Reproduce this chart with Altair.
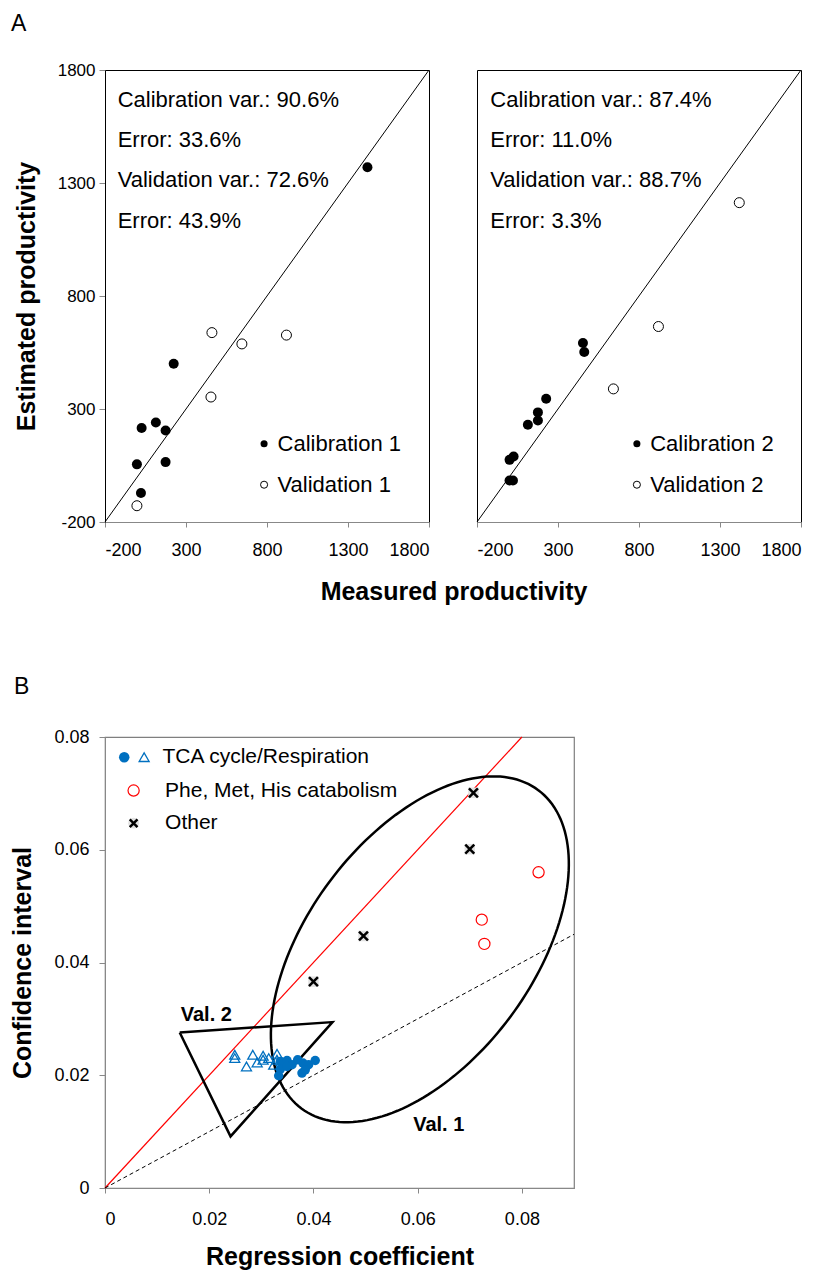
import altair as alt
import pandas as pd
import numpy as np

FONT = "Liberation Sans"

# ---------------- Panel A data ----------------
A_TICKS = [-200, 300, 800, 1300, 1800]
cal1_x = [1420, 224, 114, 26, 174, -3, 174, 22]
cal1_y = [1370, 500, 240, 216, 205, 55, 65, -72]
val1_x = [460, 645, 920, 454, -3]
val1_y = [638, 588, 627, 353, -128]
cal2_x = [454, 462, 227, 176, 176, 114, 26, 1, 1, 22]
cal2_y = [592, 552, 345, 285, 249, 230, 90, 75, -16, -16]
val2_x = [1419, 920, 642]
val2_y = [1213, 665, 389]
stats1 = ["Calibration var.: 90.6%", "Error: 33.6%", "Validation var.: 72.6%", "Error: 43.9%"]
stats2 = ["Calibration var.: 87.4%", "Error: 11.0%", "Validation var.: 88.7%", "Error: 3.3%"]
stat_y = [1635, 1458, 1284, 1103]
leg1 = ["Calibration 1", "Validation 1"]
leg2 = ["Calibration 2", "Validation 2"]
leg_y = [146, -35]

# ---------------- Panel B data ----------------
B_XTICKS = [0, 0.02, 0.04, 0.06, 0.08]
B_YTICKS = [0, 0.02, 0.04, 0.06, 0.08]
tca_circ_x = [0.03365, 0.03493, 0.03589, 0.03697, 0.03799, 0.03907, 0.04034, 0.0378, 0.03365, 0.03333, 0.03493, 0.03843]
tca_circ_y = [0.02245, 0.02262, 0.02186, 0.02275, 0.02216, 0.02186, 0.02262, 0.02039, 0.0211, 0.01991, 0.02156, 0.02097]
tca_tri_x = [0.0249, 0.0249, 0.02715, 0.02836, 0.0292, 0.03034, 0.03034, 0.03142, 0.03302, 0.03237, 0.0330]
tca_tri_y = [0.02364, 0.02305, 0.02156, 0.02364, 0.02227, 0.02346, 0.02275, 0.02305, 0.02381, 0.02186, 0.02275]
phe_x = [0.0832, 0.0723, 0.0728]
phe_y = [0.0560, 0.0476, 0.0433]
other_x = [0.0707, 0.0700, 0.0496, 0.0400]
other_y = [0.0701, 0.0601, 0.0447, 0.0366]
red_line_x = [0, 0.08]
red_line_y = [0, 0.08]
dash_line_x = [0, 0.09]
dash_line_y = [0, 0.045]
tri_x = [0.01434, 0.04365, 0.02409, 0.01434]
tri_y = [0.02759, 0.02943, 0.00915, 0.02759]
ELL_C = (0.06042, 0.04234)
ELL_U = (0.02273, 0.02823)
ELL_V = (0.01734, -0.01200)
val_labels = ["Val. 2", "Val. 1"]
val_lx = [0.01453, 0.05914]
val_ly = [0.0306, 0.01122]
b_leg_labels = ["TCA cycle/Respiration", "Phe, Met, His catabolism", "Other"]
b_leg_text_x = [0.01103, 0.01153, 0.01153]
b_leg_y = [0.07642, 0.0705, 0.06472]

CROSS = "M-1,-1L1,1M1,-1L-1,1"
PLAIN_NUM = "'' + datum.value"


def panel_a(cal_x, cal_y, val_x, val_y, stats, stat_x, legs, leg_mx, leg_tx, show_y, letter):
    xs = alt.Scale(domain=[-200, 1800], nice=False, zero=False)
    ys = alt.Scale(domain=[-200, 1800], nice=False, zero=False)
    xaxis = alt.Axis(values=A_TICKS, labelExpr=PLAIN_NUM, title=None, grid=False, tickSize=5,
                     tickColor="#888888", domainColor="#888888", labelFont=FONT,
                     labelFontSize=18, labelPadding=14, labelColor="black")
    if show_y:
        yaxis = alt.Axis(values=A_TICKS, labelExpr=PLAIN_NUM, title="Estimated productivity",
                         grid=False, tickSize=6, tickColor="#888888", domainColor="black",
                         labelFont=FONT, labelFontSize=17, labelPadding=4, labelColor="black",
                         titleFont=FONT, titleFontSize=25, titleFontWeight="bold",
                         titlePadding=18, titleColor="black")
    else:
        yaxis = None
    X = alt.X("x:Q", scale=xs, axis=xaxis)
    Y = alt.Y("y:Q", scale=ys, axis=yaxis)

    diag = alt.Chart(pd.DataFrame({"x": [-200, 1800], "y": [-200, 1800]})).mark_line(
        color="black", strokeWidth=1).encode(x=X, y=Y)
    cal = alt.Chart(pd.DataFrame({"x": cal_x, "y": cal_y})).mark_point(
        shape="circle", filled=True, fill="black", color="black", size=100, opacity=1).encode(x=X, y=Y)
    val = alt.Chart(pd.DataFrame({"x": val_x, "y": val_y})).mark_point(
        shape="circle", filled=True, fill="white", stroke="black", strokeWidth=1, size=100,
        opacity=1).encode(x=X, y=Y)
    txt = alt.Chart(pd.DataFrame({"x": [stat_x] * 4, "y": stat_y, "t": stats})).mark_text(
        align="left", baseline="alphabetic", fontSize=22, font=FONT, color="black").encode(
        x=X, y=Y, text="t:N")
    legm1 = alt.Chart(pd.DataFrame({"x": [leg_mx], "y": [leg_y[0]]})).mark_point(
        shape="circle", filled=True, color="black", size=50, opacity=1).encode(x=X, y=Y)
    legm2 = alt.Chart(pd.DataFrame({"x": [leg_mx], "y": [leg_y[1]]})).mark_point(
        shape="circle", filled=True, fill="white", stroke="black", strokeWidth=1, size=50,
        opacity=1).encode(x=X, y=Y)
    legt = alt.Chart(pd.DataFrame({"x": [leg_tx] * 2, "y": leg_y, "t": legs})).mark_text(
        align="left", baseline="middle", fontSize=22, font=FONT, color="black").encode(
        x=X, y=Y, text="t:N")
    layers = [diag, cal, val, txt, legm1, legm2, legt]
    if letter:
        let = alt.Chart(pd.DataFrame({"t": [letter]})).mark_text(
            align="left", baseline="middle", fontSize=23, font=FONT, color="black").encode(
            x=alt.value(-94), y=alt.value(-46), text="t:N")
        layers.append(let)
    return alt.layer(*layers).properties(
        width=324, height=452, view=alt.ViewBackground(stroke="black", strokeWidth=1))


pA1 = panel_a(cal1_x, cal1_y, val1_x, val1_y, stats1, -122, leg1, 782, 865, True, "A")
pA2 = panel_a(cal2_x, cal2_y, val2_x, val2_y, stats2, -118, leg2, 787, 869, False, None)

top = alt.hconcat(pA1, pA2, spacing=42).properties(
    title=alt.TitleParams("Measured productivity", orient="bottom", anchor="middle",
                          font=FONT, fontSize=25, fontWeight="bold", color="black",
                          offset=20, dx=47))

# ---------------- Panel B ----------------
bxs = alt.Scale(domain=[0, 0.09], nice=False, zero=False)
bys = alt.Scale(domain=[0, 0.08], nice=False, zero=False)
bxaxis = alt.Axis(values=B_XTICKS, format="~g", title="Regression coefficient", grid=False,
                  tickSize=5, tickColor="#888888", domainColor="#888888", labelFont=FONT,
                  labelFontSize=18, labelPadding=17, labelColor="black", titleFont=FONT,
                  titleFontSize=25, titleFontWeight="bold", titlePadding=16, titleColor="black")
byaxis = alt.Axis(values=B_YTICKS, format="~g", title="Confidence interval", grid=False,
                  tickSize=6, tickColor="#888888", domainColor="#888888", labelFont=FONT,
                  labelFontSize=18, labelPadding=10, labelColor="black", titleFont=FONT,
                  titleFontSize=25, titleFontWeight="bold", titlePadding=18, titleColor="black")
BX = alt.X("x:Q", scale=bxs, axis=bxaxis)
BY = alt.Y("y:Q", scale=bys, axis=byaxis)

t = np.linspace(0, 2 * np.pi, 181)
ell_df = pd.DataFrame({
    "x": ELL_C[0] + ELL_U[0] * np.cos(t) + ELL_V[0] * np.sin(t),
    "y": ELL_C[1] + ELL_U[1] * np.cos(t) + ELL_V[1] * np.sin(t),
    "o": np.arange(len(t)),
})

red = alt.Chart(pd.DataFrame({"x": red_line_x, "y": red_line_y})).mark_line(
    color="#ff0000", strokeWidth=1.2).encode(x=BX, y=BY)
dash = alt.Chart(pd.DataFrame({"x": dash_line_x, "y": dash_line_y})).mark_line(
    color="black", strokeWidth=1, strokeDash=[4, 3]).encode(x=BX, y=BY)
ell = alt.Chart(ell_df).mark_line(color="black", strokeWidth=2.5).encode(
    x=BX, y=BY, order="o:Q")
tri = alt.Chart(pd.DataFrame({"x": tri_x, "y": tri_y, "o": list(range(len(tri_x)))})).mark_line(
    color="black", strokeWidth=2.5, strokeJoin="miter").encode(x=BX, y=BY, order="o:Q")
tris = alt.Chart(pd.DataFrame({"x": tca_tri_x, "y": tca_tri_y})).mark_point(
    shape="triangle-up", filled=False, color="#0070C0", strokeWidth=1.3, size=100,
    opacity=1).encode(x=BX, y=BY)
circs = alt.Chart(pd.DataFrame({"x": tca_circ_x, "y": tca_circ_y})).mark_point(
    shape="circle", filled=True, color="#0070C0", size=90, opacity=1).encode(x=BX, y=BY)
phe = alt.Chart(pd.DataFrame({"x": phe_x, "y": phe_y})).mark_point(
    shape="circle", filled=False, color="#ff0000", strokeWidth=1.2, size=125,
    opacity=1).encode(x=BX, y=BY)
oth_bg = alt.Chart(pd.DataFrame({"x": other_x, "y": other_y})).mark_point(
    shape="square", filled=True, color="#e2e2e2", size=110, opacity=1).encode(x=BX, y=BY)
oth = alt.Chart(pd.DataFrame({"x": other_x, "y": other_y})).mark_point(
    shape=CROSS, filled=False, color="black", strokeWidth=2.5, size=80,
    opacity=1).encode(x=BX, y=BY)
vals = alt.Chart(pd.DataFrame({"x": val_lx, "y": val_ly, "t": val_labels})).mark_text(
    align="left", baseline="middle", fontSize=20, fontWeight="bold", font=FONT,
    color="black").encode(x=BX, y=BY, text="t:N")

# legend
lg_circ = alt.Chart(pd.DataFrame({"x": [0.00369], "y": [b_leg_y[0]]})).mark_point(
    shape="circle", filled=True, color="#0070C0", size=110, opacity=1).encode(x=BX, y=BY)
lg_tri = alt.Chart(pd.DataFrame({"x": [0.00751], "y": [b_leg_y[0]]})).mark_point(
    shape="triangle-up", filled=False, color="#0070C0", strokeWidth=1.3, size=100,
    opacity=1).encode(x=BX, y=BY)
lg_phe = alt.Chart(pd.DataFrame({"x": [0.00549], "y": [b_leg_y[1]]})).mark_point(
    shape="circle", filled=False, color="#ff0000", strokeWidth=1.2, size=125,
    opacity=1).encode(x=BX, y=BY)
lg_oth_bg = alt.Chart(pd.DataFrame({"x": [0.00549], "y": [b_leg_y[2]]})).mark_point(
    shape="circle", filled=True, color="#e2e2e2", size=120, opacity=1).encode(x=BX, y=BY)
lg_oth = alt.Chart(pd.DataFrame({"x": [0.00549], "y": [b_leg_y[2]]})).mark_point(
    shape=CROSS, filled=False, color="black", strokeWidth=2.5, size=60,
    opacity=1).encode(x=BX, y=BY)
lg_txt = alt.Chart(pd.DataFrame({"x": b_leg_text_x, "y": b_leg_y, "t": b_leg_labels})).mark_text(
    align="left", baseline="middle", fontSize=21, font=FONT, color="black").encode(
    x=BX, y=BY, text="t:N")
letB = alt.Chart(pd.DataFrame({"t": ["B"]})).mark_text(
    align="left", baseline="middle", fontSize=23, font=FONT, color="black").encode(
    x=alt.value(-91), y=alt.value(-50), text="t:N")

pB = alt.layer(red, dash, ell, tri, tris, circs, phe, oth_bg, oth, vals,
               lg_circ, lg_tri, lg_phe, lg_oth_bg, lg_oth, lg_txt, letB).properties(
    width=469, height=451, view=alt.ViewBackground(stroke="#7f7f7f", strokeWidth=1.2))

chart = alt.vconcat(top, pB, spacing=70).properties(
    padding={"left": 10, "top": 12, "right": 5, "bottom": 2}
).configure(font=FONT).configure_view(stroke="black")

chart.save("out.html", embed_options={"renderer": "svg", "actions": False})
